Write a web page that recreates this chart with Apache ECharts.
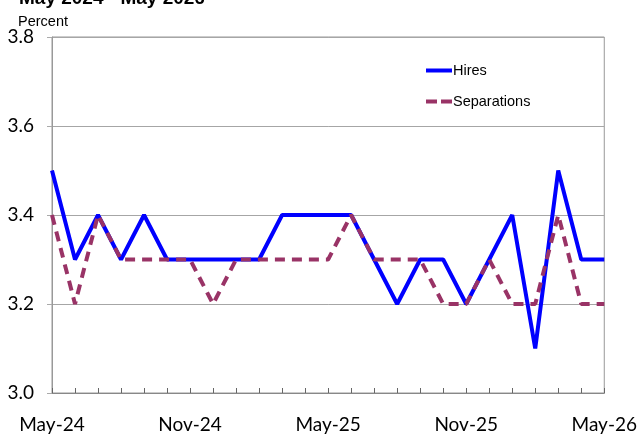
<!DOCTYPE html>
<html>
<head>
<meta charset="utf-8">
<script src="https://cdn.jsdelivr.net/npm/echarts@6/dist/echarts.min.js"></script>
<style>html,body{margin:0;padding:0;background:#fff}#c{width:640px;height:434px}</style>
</head>
<body>
<div id="c"></div>
<script>
const months = ['May-24','Jun-24','Jul-24','Aug-24','Sep-24','Oct-24','Nov-24','Dec-24','Jan-25','Feb-25','Mar-25','Apr-25','May-25','Jun-25','Jul-25','Aug-25','Sep-25','Oct-25','Nov-25','Dec-25','Jan-26','Feb-26','Mar-26','Apr-26','May-26'];
const hires = [3.5,3.3,3.4,3.3,3.4,3.3,3.3,3.3,3.3,3.3,3.4,3.4,3.4,3.4,3.3,3.2,3.3,3.3,3.2,3.3,3.4,3.1,3.5,3.3,3.3];
const separations = [3.4,3.2,3.4,3.3,3.3,3.3,3.3,3.2,3.3,3.3,3.3,3.3,3.3,3.4,3.3,3.3,3.3,3.2,3.2,3.3,3.2,3.2,3.4,3.2,3.2];
const titleText = 'May 2024 - May 2026';
const unitText = 'Percent';

const chart = echarts.init(document.getElementById('c'));
chart.setOption({
  animation: false,
  title: [
    {text: titleText, left: 14, top: -16, textStyle: {fontFamily: 'Liberation Sans', fontWeight: 'bold', fontSize: 19, color: '#000'}},
    {text: unitText, left: 13, top: 9, textStyle: {fontFamily: 'Liberation Sans', fontWeight: 'normal', fontSize: 14.5, color: '#000'}}
  ],
  grid: {left: 52, right: 34, top: 37, bottom: 41, show: true, borderColor: '#999', borderWidth: 1},
  legend: {
    orient: 'vertical', left: 421, top: 58, itemGap: 16, itemWidth: 26, itemHeight: 4,
    textStyle: {fontFamily: 'Liberation Sans', fontSize: 14.5, color: '#000', padding: [0,0,0,-4]},
    data: [
      {name: 'Hires', icon: 'rect'},
      {name: 'Separations', icon: 'path://M0,0H11V4H0Z M15,0H26V4H15Z'}
    ]
  },
  xAxis: {
    type: 'category', data: months, boundaryGap: false,
    axisLine: {lineStyle: {color: '#888', width: 1}},
    axisTick: {show: true, inside: true, length: 5, interval: 0, lineStyle: {color: '#666'}},
    axisLabel: {interval: 5, fontFamily: 'Lato', fontSize: 19, color: '#000', margin: 22}
  },
  yAxis: {
    type: 'value', min: 3.0, max: 3.8, interval: 0.2,
    axisLine: {show: true, lineStyle: {color: '#999', width: 1}},
    axisTick: {show: true, length: 5, lineStyle: {color: '#aaa'}},
    axisLabel: {fontFamily: 'Lato', fontSize: 19, color: '#000', margin: 18, formatter: v => v.toFixed(1)},
    splitLine: {lineStyle: {color: '#a6a6a6', width: 1}}
  },
  series: [
    {name: 'Hires', type: 'line', data: hires, symbol: 'none', lineStyle: {color: '#0000ff', width: 4}, itemStyle: {color: '#0000ff'}},
    {name: 'Separations', type: 'line', data: separations, symbol: 'none', lineStyle: {color: '#993366', width: 4, type: [10, 7]}, itemStyle: {color: '#993366'}}
  ]
});
</script>
</body>
</html>
